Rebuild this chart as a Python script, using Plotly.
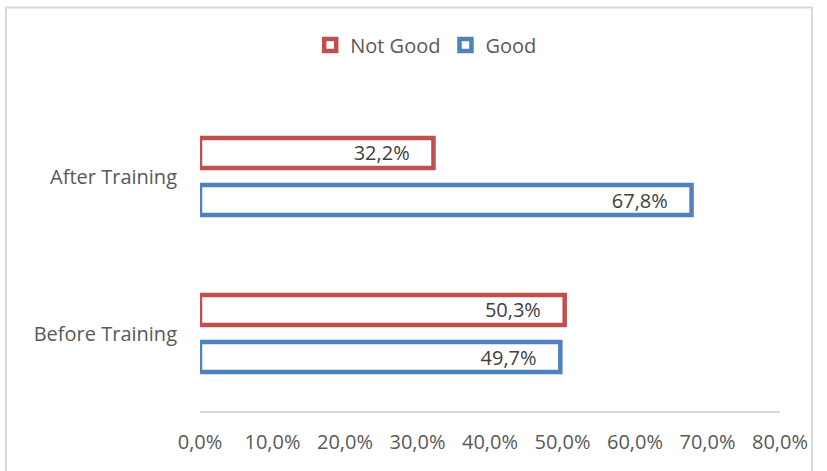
import plotly.graph_objects as go

categories = ["Before Training", "After Training"]
good = [0.497, 0.678]
not_good = [0.503, 0.322]
x_ticks = [0, 0.1, 0.2, 0.3, 0.4, 0.5, 0.6, 0.7, 0.8]

RED = "#C0504D"
BLUE = "#4F81BD"
FONT = "'Open Sans', 'Noto Sans', sans-serif"
PAD = "\u00a0" * 4

fig = go.Figure()
fig.add_trace(go.Bar(
    name="Good", y=categories, x=good, orientation="h",
    marker=dict(color="white", line=dict(color=BLUE, width=4.5)),
    texttemplate="%{x:.1%}" + PAD, textposition="inside", constraintext="none",
    insidetextanchor="end", textfont=dict(color="#404040", size=20, family=FONT),
    hoverinfo="skip",
))
fig.add_trace(go.Bar(
    name="Not Good", y=categories, x=not_good, orientation="h",
    marker=dict(color="white", line=dict(color=RED, width=4.5)),
    texttemplate="%{x:.1%}" + PAD, textposition="inside", constraintext="none",
    insidetextanchor="end", textfont=dict(color="#404040", size=20, family=FONT),
    hoverinfo="skip",
))

fig.update_layout(
    width=827, height=471,
    margin=dict(l=200, r=47, t=98, b=59),
    paper_bgcolor="white", plot_bgcolor="white",
    barmode="group", bargap=0.40, bargroupgap=0.36,
    separators=",.",
    font=dict(family=FONT, size=20, color="#595959"),
    showlegend=True,
    legend=dict(orientation="h", x=0.39, xanchor="center", y=1.169, yanchor="middle",
                traceorder="reversed", font=dict(size=20, color="#595959"),
                itemwidth=30),
    xaxis=dict(range=[0, 0.8], tickvals=x_ticks, tickformat=".1%",
               showgrid=False, zeroline=False, showline=False,
               ticklabelstandoff=16, tickfont=dict(size=20, color="#595959")),
    yaxis=dict(categoryorder="array", categoryarray=categories,
               showgrid=False, zeroline=False, showline=False,
               ticklabelstandoff=22, tickfont=dict(size=20, color="#595959")),
    shapes=[
        dict(type="line", xref="paper", yref="paper", x0=0, x1=1, y0=0, y1=0,
             line=dict(color="#D9D9D9", width=2)),
        dict(type="rect", xref="paper", yref="paper", x0=-0.3345, x1=1.055,
             y0=-0.25, y1=1.2885, line=dict(color="#D9D9D9", width=2),
             layer="below"),
    ],
)

fig.write_html("out.html")
